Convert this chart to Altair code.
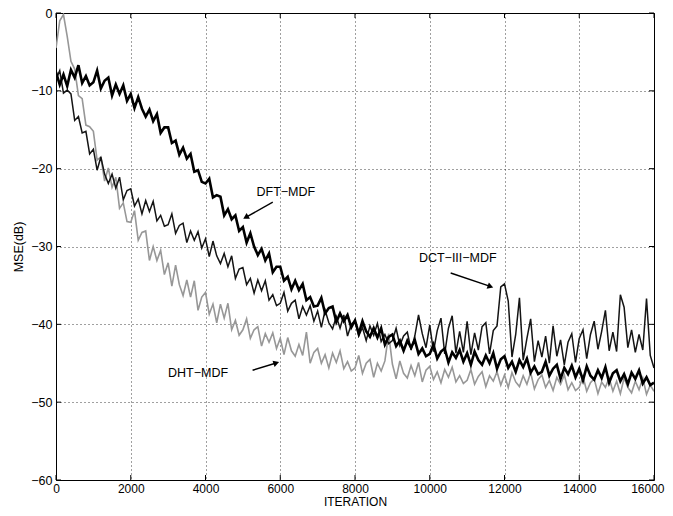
import altair as alt
import pandas as pd

# Iterations (step 100) and MSE values in dB
iters = list(range(0, 16001, 100))

dft_mdf = [
    -7.6, -9.2, -7.9, -9.4, -7.3, -8.3, -6.7, -9.0, -8.1, -9.3,
    -8.9, -7.4, -9.7, -8.7, -8.3, -10.6, -9.2, -10.4, -9.3, -11.3,
    -10.4, -12.2, -10.8, -12.3, -13.3, -12.4, -13.9, -13.0, -15.4, -14.7,
    -14.7, -16.7, -16.4, -18.2, -17.3, -18.7, -18.1, -20.4, -20.2, -21.7,
    -21.9, -21.3, -23.7, -23.4, -23.6, -26.0, -25.2, -26.5, -26.0, -28.0,
    -27.5, -29.5, -28.3, -30.0, -31.1, -30.3, -31.8, -30.9, -33.3, -32.6,
    -32.6, -34.4, -33.9, -35.5, -34.4, -35.6, -34.8, -36.9, -36.5, -37.7,
    -37.6, -36.6, -38.6, -37.9, -37.7, -39.7, -38.6, -39.6, -38.8, -40.4,
    -39.5, -41.2, -39.6, -40.9, -41.6, -40.5, -41.7, -40.5, -42.6, -41.6,
    -41.3, -42.8, -42.1, -43.4, -42.1, -43.0, -42.0, -43.8, -43.1, -44.1,
    -43.8, -42.6, -44.4, -43.5, -43.1, -44.9, -43.6, -44.3, -43.3, -44.8,
    -43.7, -45.2, -43.5, -44.6, -45.2, -44.0, -45.0, -43.7, -45.7, -44.5,
    -44.1, -45.6, -44.8, -46.1, -44.6, -45.5, -44.4, -46.2, -45.4, -46.4,
    -46.1, -44.8, -46.6, -45.7, -45.2, -47.0, -45.6, -46.4, -45.3, -46.8,
    -45.7, -47.2, -45.4, -46.6, -47.1, -45.9, -46.9, -45.5, -47.5, -46.3,
    -45.9, -47.3, -46.4, -47.7, -46.2, -47.0, -45.9, -47.6, -46.8, -47.8, -47.5,
]

dct_iii_mdf = [
    -8.5, -7.4, -10.3, -9.9, -10.4, -13.8, -13.3, -15.4, -15.2, -18.1,
    -17.5, -20.2, -18.5, -20.7, -21.9, -20.7, -22.5, -21.1, -24.0, -22.8,
    -22.6, -24.8, -23.9, -25.8, -24.1, -25.5, -24.2, -26.7, -26.0, -27.4,
    -27.2, -25.8, -28.3, -27.3, -27.0, -29.5, -28.0, -29.2, -28.1, -30.2,
    -29.0, -31.3, -29.3, -31.2, -32.2, -30.9, -32.6, -31.2, -34.1, -32.9,
    -32.7, -34.9, -34.1, -36.0, -34.3, -35.7, -34.4, -36.9, -36.2, -37.6,
    -37.3, -35.9, -38.3, -37.3, -36.9, -39.3, -37.7, -38.8, -37.6, -39.6,
    -38.3, -40.4, -38.2, -39.8, -40.6, -39.0, -40.5, -38.8, -41.5, -40.0,
    -39.5, -41.5, -40.4, -42.1, -40.2, -41.4, -39.9, -42.2, -41.3, -42.5,
    -42.1, -40.5, -42.7, -41.5, -41.0, -43.3, -41.5, -38.8, -41.2, -43.0,
    -40.1, -43.5, -40.8, -39.2, -43.8, -40.5, -38.9, -43.7, -40.9, -43.6,
    -39.6, -43.9, -41.1, -43.3, -40.3, -39.8, -43.8, -40.8, -40.2, -35.2,
    -34.8, -37.0, -44.2, -41.3, -36.6, -44.6, -41.8, -39.3, -44.8, -42.1,
    -44.2, -41.5, -45.0, -40.2, -44.1, -42.0, -45.2, -42.3, -41.2, -44.9,
    -41.8, -40.7, -44.4, -41.3, -39.6, -43.2, -40.9, -38.2, -43.4, -41.0,
    -43.5, -36.2, -37.8, -43.0, -40.7, -43.6, -41.3, -43.3, -36.7, -44.0, -45.6,
]

dht_mdf = [
    -4.5, -1.0, -0.2, -3.0, -6.2, -7.2, -10.6, -11.0, -14.4, -14.6,
    -15.2, -18.9, -18.5, -21.6, -19.9, -22.4, -21.1, -25.1, -24.4, -26.8,
    -26.9, -25.4, -29.2, -28.2, -28.0, -31.8, -30.0, -31.8, -30.5, -33.6,
    -32.1, -35.1, -32.4, -34.9, -36.3, -34.3, -36.5, -34.4, -38.2, -36.5,
    -35.9, -38.7, -37.4, -39.8, -37.4, -39.2, -37.3, -40.7, -39.5, -41.4,
    -40.7, -39.3, -41.8, -40.7, -40.3, -42.8, -41.2, -42.3, -41.1, -43.1,
    -41.8, -43.9, -41.7, -43.4, -44.1, -42.6, -44.0, -41.0, -45.0, -43.6,
    -43.1, -45.0, -43.9, -45.6, -43.7, -44.9, -43.4, -45.7, -44.8, -46.0,
    -45.6, -44.0, -46.3, -45.0, -44.5, -46.8, -45.0, -46.0, -44.7, -41.2,
    -45.1, -47.0, -44.7, -46.3, -46.9, -45.3, -46.6, -44.9, -47.4, -45.9,
    -45.4, -47.1, -46.1, -47.5, -45.8, -46.8, -45.5, -47.4, -46.6, -47.6,
    -47.2, -45.8, -47.7, -46.7, -46.1, -48.0, -46.6, -47.3, -46.1, -47.8,
    -46.5, -48.1, -46.2, -47.4, -48.0, -46.6, -47.7, -46.2, -48.3, -47.1,
    -46.5, -48.1, -47.2, -48.5, -46.8, -47.7, -46.5, -48.4, -47.5, -48.5,
    -48.1, -46.7, -48.6, -47.5, -47.0, -48.9, -47.4, -48.1, -46.9, -48.6,
    -47.3, -48.9, -46.9, -48.1, -48.8, -47.3, -48.4, -46.9, -49.0, -47.8, -48.6,
]

x_ticks = [0, 2000, 4000, 6000, 8000, 10000, 12000, 14000, 16000]
y_ticks = [-60, -50, -40, -30, -20, -10, 0]

labels = ["DFT\u2212MDF", "DCT\u2212III\u2212MDF", "DHT\u2212MDF"]
label_x = [6150, 10750, 3800]
label_y = [-23.0, -31.5, -46.3]
arrow_x1 = [5800, 10560, 5260]
arrow_y1 = [-24.3, -33.4, -45.9]
arrow_x2 = [5100, 11600, 5870]
arrow_y2 = [-26.2, -35.1, -45.0]
arrow_angle = [240, 110, 72]

FONT = "Liberation Sans"
W, H = 598, 467

xs = alt.Scale(domain=[0, 16000], nice=False, zero=False)
ys = alt.Scale(domain=[-60, 0], nice=False, zero=False)


def series_layer(vals, color, width):
    df = pd.DataFrame({"it": iters, "mse": vals})
    return alt.Chart(df).mark_line(color=color, strokeWidth=width, clip=True).encode(
        x=alt.X("it:Q", scale=xs,
                axis=alt.Axis(values=x_ticks, title="ITERATION", format="d",
                              titleX=W / 2, titleY=28, titleBaseline="bottom",
                              titleFontSize=12, labelFontSize=12,
                              labelPadding=3, labelFlush=False,
                              labelAlign={"condition": {"test": "datum.value == 16000",
                                                        "value": "right"},
                                          "value": "center"},
                              labelOffset={"condition": {"test": "datum.value == 16000",
                                                         "value": 10},
                                           "value": 0})),
        y=alt.Y("mse:Q", scale=ys,
                axis=alt.Axis(values=y_ticks, title="MSE(dB)", format="d",
                              titleX=-38, titleY=H / 2, titleAlign="center",
                              titleBaseline="middle", labelPadding=4,
                              labelFlush=False)),
    )


dht = series_layer(dht_mdf, "#979797", 1.6)
dct = series_layer(dct_iii_mdf, "#141414", 1.5)
dft = series_layer(dft_mdf, "#000000", 2.6)

tx = pd.DataFrame({"t": x_ticks})
ty = pd.DataFrame({"t": y_ticks})
tick_bot = alt.Chart(tx).mark_rule(color="black", strokeWidth=1).encode(
    x=alt.X("t:Q", scale=xs), y=alt.value(H), y2=alt.value(H - 5))
tick_top = alt.Chart(tx).mark_rule(color="black", strokeWidth=1).encode(
    x=alt.X("t:Q", scale=xs), y=alt.value(0), y2=alt.value(5))
tick_left = alt.Chart(ty).mark_rule(color="black", strokeWidth=1).encode(
    y=alt.Y("t:Q", scale=ys), x=alt.value(0), x2=alt.value(5))
tick_right = alt.Chart(ty).mark_rule(color="black", strokeWidth=1).encode(
    y=alt.Y("t:Q", scale=ys), x=alt.value(W), x2=alt.value(W - 5))

ann = pd.DataFrame({
    "label": labels, "lx": label_x, "ly": label_y,
    "x1": arrow_x1, "y1": arrow_y1, "x2": arrow_x2, "y2": arrow_y2,
    "ang": arrow_angle,
})
texts = alt.Chart(ann).mark_text(font=FONT, fontSize=12.5, color="black").encode(
    x=alt.X("lx:Q", scale=xs), y=alt.Y("ly:Q", scale=ys), text="label:N")
arrows = alt.Chart(ann).mark_rule(color="black", strokeWidth=1.4).encode(
    x=alt.X("x1:Q", scale=xs), y=alt.Y("y1:Q", scale=ys),
    x2="x2:Q", y2="y2:Q")
heads = alt.Chart(ann).mark_point(shape="triangle", filled=True, size=45,
                                  color="black", opacity=1).encode(
    x=alt.X("x2:Q", scale=xs), y=alt.Y("y2:Q", scale=ys),
    angle=alt.Angle("ang:Q", scale=None))

chart = alt.layer(
    dht, dct, dft, tick_bot, tick_top, tick_left, tick_right, arrows, heads, texts
).properties(
    width=W, height=H,
    autosize=alt.AutoSizeParams(type="none"),
    padding={"left": 48, "top": 5, "right": 11, "bottom": 28},
    background="white",
).configure_view(
    stroke="black", strokeWidth=1
).configure_axis(
    labelFont=FONT, labelFontSize=12.5, labelColor="black",
    titleFont=FONT, titleFontSize=12.5, titleFontWeight="normal", titleColor="black",
    ticks=False, domain=False, grid=True, gridColor="black", gridDash=[1, 3],
    gridOpacity=0.75, gridWidth=1,
)

chart.save("out.html", embed_options={"renderer": "svg", "actions": False})
